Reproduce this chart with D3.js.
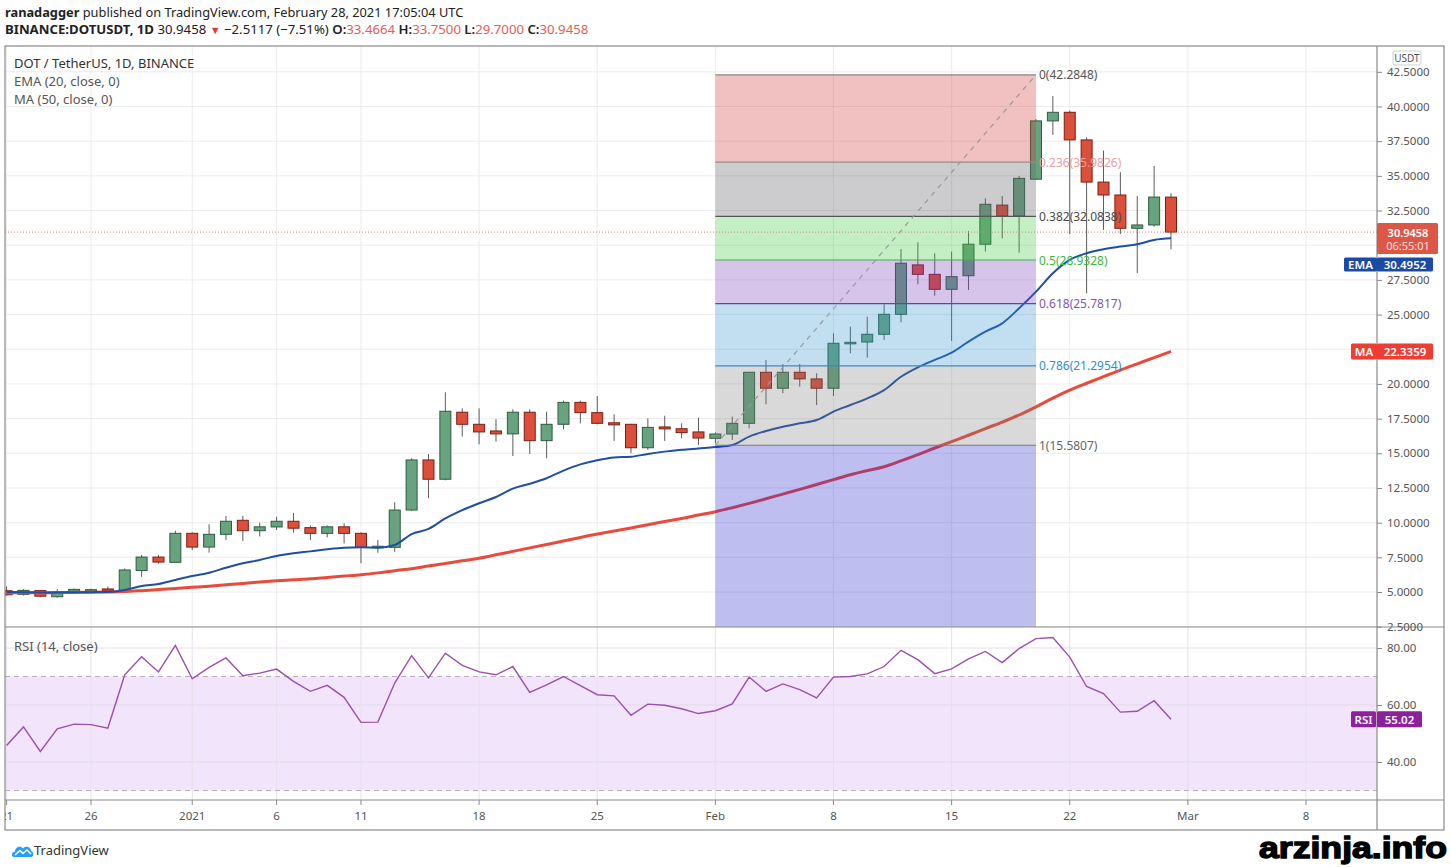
<!DOCTYPE html>
<html><head><meta charset="utf-8">
<script src="https://cdn.jsdelivr.net/npm/d3@7"></script>
<style>body{margin:0;background:#fff;} svg{display:block;font-family:"Noto Sans",sans-serif;}</style>
</head><body><svg id="c" width="1451" height="867"></svg>
<script>
// ---------------- data ----------------
const dates = ["2020-12-21","2020-12-22","2020-12-23","2020-12-24","2020-12-25","2020-12-26","2020-12-27","2020-12-28","2020-12-29","2020-12-30","2020-12-31",
"2021-01-01","2021-01-02","2021-01-03","2021-01-04","2021-01-05","2021-01-06","2021-01-07","2021-01-08","2021-01-09","2021-01-10","2021-01-11","2021-01-12","2021-01-13","2021-01-14","2021-01-15","2021-01-16","2021-01-17","2021-01-18","2021-01-19","2021-01-20","2021-01-21","2021-01-22","2021-01-23","2021-01-24","2021-01-25","2021-01-26","2021-01-27","2021-01-28","2021-01-29","2021-01-30","2021-01-31",
"2021-02-01","2021-02-02","2021-02-03","2021-02-04","2021-02-05","2021-02-06","2021-02-07","2021-02-08","2021-02-09","2021-02-10","2021-02-11","2021-02-12","2021-02-13","2021-02-14","2021-02-15","2021-02-16","2021-02-17","2021-02-18","2021-02-19","2021-02-20","2021-02-21","2021-02-22","2021-02-23","2021-02-24","2021-02-25","2021-02-26","2021-02-27","2021-02-28"];
const openV  = [5.09,4.83,5.10,4.66,5.05,5.12,5.22,5.10,6.55,7.52,7.14, 9.23,8.24,9.16,10.17,9.42,9.69,10.10,9.64,9.23,9.70,9.23,8.20,8.22,10.91,14.52,13.13,17.96,17.09,16.61,16.40,17.96,15.91,17.09,18.67,17.93,17.20,17.09,15.40,16.90,16.77,16.54,
16.08,16.39,17.16,20.84,19.69,20.84,20.36,19.69,22.93,23.02,23.58,25.02,28.58,27.90,26.82,27.80,30.07,32.89,32.10,34.76,38.96,39.58,37.59,34.55,33.62,31.22,31.46,33.4664];
const highV  = [5.40,5.20,5.15,5.20,5.25,5.25,5.40,6.70,7.67,7.67,9.42, 9.30,9.88,10.48,10.48,10.00,10.43,10.70,9.80,9.80,9.95,9.30,8.75,11.47,14.64,14.95,19.40,18.24,18.24,17.47,18.17,18.17,18.00,18.80,18.79,19.13,17.81,17.12,17.52,17.71,17.16,17.57,
16.50,17.64,20.86,21.73,21.44,21.44,20.77,23.65,24.13,24.85,25.74,29.73,30.21,29.42,29.54,31.03,33.38,33.54,35.00,39.10,40.76,39.70,37.78,36.82,35.26,33.55,35.71,33.75];
const lowV   = [4.75,4.75,4.62,4.60,5.00,5.05,5.05,5.05,6.10,7.05,7.10, 8.03,7.83,8.75,8.68,9.00,9.47,9.28,8.75,8.94,8.50,7.07,7.83,7.90,10.84,11.76,13.05,16.20,15.65,15.84,14.80,14.95,14.64,16.73,17.16,17.09,15.89,15.00,15.24,15.89,16.08,15.60,
15.72,15.96,16.80,18.53,19.33,19.80,18.48,19.13,22.21,21.90,23.17,24.44,27.18,26.36,23.10,26.77,29.54,30.50,29.46,34.70,37.95,30.81,26.53,31.10,30.81,27.98,31.34,29.70];
const closeV = [4.80,5.12,4.70,5.00,5.19,5.17,5.12,6.59,7.52,7.16,9.23, 8.24,9.16,10.10,9.42,9.70,10.10,9.60,9.23,9.70,9.23,8.22,8.30,10.91,14.52,13.13,18.03,17.09,16.54,16.40,17.96,15.91,17.09,18.67,17.93,17.16,17.05,15.40,16.87,16.76,16.49,16.10,
16.39,17.16,20.84,19.69,20.84,20.36,19.69,22.93,23.00,23.58,25.02,28.70,27.90,26.82,27.73,30.07,32.95,32.10,34.82,38.96,39.58,37.59,34.55,33.62,31.22,31.46,33.47,30.9458];
const ema20  = [5.00,4.99,4.97,4.97,4.98,4.99,5.00,5.14,5.43,5.58,5.87, 6.15,6.39,6.75,7.07,7.31,7.60,7.79,7.93,8.08,8.19,8.22,8.20,8.39,9.18,9.55,10.30,10.90,11.40,11.85,12.45,12.80,13.20,13.75,14.20,14.50,14.70,14.75,14.95,15.12,15.25,15.35,
15.45,15.60,16.20,16.61,16.92,17.16,17.40,18.00,18.48,18.96,19.56,20.52,21.20,21.73,22.25,23.05,23.77,24.37,25.45,26.65,27.98,28.94,29.42,29.71,29.90,30.07,30.38,30.4952];
const ma50   = [4.95,4.95,4.95,4.96,4.97,4.98,5.00,5.03,5.10,5.18,5.26, 5.34,5.42,5.52,5.62,5.72,5.81,5.88,5.95,6.05,6.15,6.25,6.38,6.54,6.68,6.87,7.06,7.25,7.43,7.68,7.93,8.18,8.43,8.68,8.93,9.18,9.40,9.62,9.85,10.08,10.30,10.55,
10.79,11.08,11.39,11.72,12.06,12.40,12.75,13.10,13.45,13.75,14.03,14.45,14.90,15.38,15.84,16.30,16.78,17.25,17.76,18.35,18.98,19.56,20.05,20.52,21.00,21.45,21.90,22.3359];
const rsi14  = [45.8,52.3,43.7,51.6,53.3,53.1,51.9,70.6,76.9,71.6,80.9, 69.2,73.2,76.5,70.3,71.2,72.6,68.3,64.8,66.9,62.7,53.9,54.0,67.7,77.3,69.5,78.2,73.9,71.6,70.6,73.5,64.4,67.1,70.0,66.8,63.6,63.2,56.4,60.3,59.9,58.7,57.0,
58.0,60.4,69.8,64.8,67.4,65.4,62.5,69.8,70.0,70.9,73.5,79.2,75.9,71.0,72.7,76.2,78.8,74.9,79.8,83.3,83.7,76.8,66.5,64.0,57.5,57.8,61.5,55.02];
const priceTicks = [2.5,5,7.5,10,12.5,15,17.5,20,22.5,25,27.5,30,32.5,35,37.5,40,42.5];
const hiddenPriceTicks = [22.5,30];   // covered by the MA and last-price tags
const rsiTicks = [40,60,80];
const timeTickDates = ["2020-12-21","2020-12-26","2021-01-01","2021-01-06","2021-01-11","2021-01-18","2021-01-25","2021-02-01","2021-02-08","2021-02-15","2021-02-22","2021-03-01","2021-03-08"];
const timeTickLabels = ["21","26","2021","6","11","18","25","Feb","8","15","22","Mar","8"];
const fibRatios = ["0","0.236","0.382","0.5","0.618","0.786","1"];
const fibValues = [42.2848,35.9826,32.0838,28.9328,25.7817,21.2954,15.5807];
const fibStart = "2021-02-01", fibEnd = "2021-02-20";
const lastPrice = 30.9458, lastEma = 30.4952, lastMa = 22.3359, lastRsi = 55.02;

// ---------------- layout ----------------
const L = 5, R = 1377, RA = 1444, T = 46, MB = 627, RB = 800, XB = 830;
const svg = d3.select("#c");
const pd = d3.utcParse("%Y-%m-%d");
const x = d3.scaleUtc().domain([pd("2020-12-21"), pd("2021-03-08")]).range([6.6, 1306]);
const y = d3.scaleLinear().domain([2.5, 42.5]).range([626.7, 71.8]);
const yr = d3.scaleLinear().domain([40, 80]).range([762, 648]);
const candles = dates.map((d,i)=>({date:pd(d),o:openV[i],h:highV[i],l:lowV[i],c:closeV[i],ema:ema20[i],ma:ma50[i],rsi:rsi14[i]}));

const defs = svg.append("defs");
defs.append("clipPath").attr("id","cm").append("rect").attr("x",L).attr("y",T).attr("width",R-L).attr("height",MB-T);
defs.append("clipPath").attr("id","cr").append("rect").attr("x",L).attr("y",MB).attr("width",R-L).attr("height",RB-MB);
defs.append("clipPath").attr("id","cx").append("rect").attr("x",L).attr("y",RB).attr("width",R-L).attr("height",XB-RB);

// header
const h1 = svg.append("text").attr("x",5).attr("y",17).attr("font-size",12.8).attr("fill","#222");
h1.append("tspan").attr("font-weight","bold").text("ranadagger");
h1.append("tspan").text(" published on TradingView.com, February 28, 2021 17:05:04 UTC");
const h2 = svg.append("text").attr("x",5).attr("y",34).attr("font-size",13.2).attr("fill","#222");
h2.append("tspan").attr("font-weight","bold").text("BINANCE:DOTUSDT, 1D");
h2.append("tspan").text(" 30.9458 ");
h2.append("tspan").attr("fill","#e03a3a").attr("font-size",11).text("▼");
h2.append("tspan").text(" −2.5117 (−7.51%) ");
[["O:","33.4664"],["H:","33.7500"],["L:","29.7000"],["C:","30.9458"]].forEach((p,i)=>{
  h2.append("tspan").attr("font-weight","600").text((i?" ":"")+p[0]);
  h2.append("tspan").attr("fill","#e0605a").text(p[1]);
});

// grids
const gm = svg.append("g").attr("clip-path","url(#cm)");
gm.selectAll("line.h").data(priceTicks).join("line").attr("x1",L).attr("x2",R)
  .attr("y1",d=>y(d)).attr("y2",d=>y(d)).attr("stroke","#ececec");
gm.selectAll("line.v").data(timeTickDates).join("line").attr("y1",T).attr("y2",MB)
  .attr("x1",d=>x(pd(d))).attr("x2",d=>x(pd(d))).attr("stroke","#ececec");

// candles
const cw = 11;
const cg = gm.append("g");
cg.selectAll("line.w").data(candles).join("line")
  .attr("x1",d=>x(d.date)).attr("x2",d=>x(d.date)).attr("y1",d=>y(d.h)).attr("y2",d=>y(d.l))
  .attr("stroke","#5c5c5c").attr("stroke-width",1);
cg.selectAll("rect.b").data(candles).join("rect")
  .attr("x",d=>x(d.date)-cw/2).attr("width",cw)
  .attr("y",d=>y(Math.max(d.o,d.c))).attr("height",d=>Math.max(1.5,Math.abs(y(d.o)-y(d.c))))
  .attr("fill",d=>d.c>=d.o?"#67a37f":"#dc4f3a")
  .attr("stroke",d=>d.c>=d.o?"#2e5c40":"#7a1f16").attr("stroke-width",1);

// MA & EMA
gm.append("path").datum(candles).attr("fill","none").attr("stroke","#ea4a3c").attr("stroke-width",3)
  .attr("d",d3.line().x(d=>x(d.date)).y(d=>y(d.ma)).curve(d3.curveMonotoneX));
gm.append("path").datum(candles).attr("fill","none").attr("stroke","#1f4ea6").attr("stroke-width",2)
  .attr("d",d3.line().x(d=>x(d.date)).y(d=>y(d.ema)).curve(d3.curveMonotoneX));

// fibonacci
const fx0 = x(pd(fibStart)), fx1 = x(pd(fibEnd));
const fibFills = ["rgba(210,50,50,0.3)","rgba(100,100,110,0.33)","rgba(60,200,60,0.3)","rgba(120,60,190,0.3)","rgba(50,150,210,0.3)","rgba(120,120,120,0.28)","rgba(40,40,210,0.3)"];
const fibLine = ["#888888","#9a8a8a","#555555","#44b044","#5b4a9e","#3a8dc0","#7a7a7a"];
const fibText = ["#555555","#e8a0a0","#4a4a4a","#3cb83c","#7a5aa8","#2f8fc6","#666666"];
const bands = fibValues.map((v,i)=>({top:v, bot: i<fibValues.length-1 ? fibValues[i+1] : 2.5, fill:fibFills[i]}));
gm.selectAll("rect.f").data(bands).join("rect").attr("x",fx0).attr("width",fx1-fx0)
  .attr("y",d=>y(d.top)).attr("height",d=>y(d.bot)-y(d.top)).attr("fill",d=>d.fill);
gm.selectAll("line.f").data(fibValues).join("line").attr("x1",fx0).attr("x2",fx1)
  .attr("y1",d=>y(d)).attr("y2",d=>y(d)).attr("stroke",(d,i)=>fibLine[i]).attr("stroke-width",1.2);
gm.append("line").attr("x1",fx0).attr("y1",y(fibValues[6])).attr("x2",fx1).attr("y2",y(fibValues[0]))
  .attr("stroke","#999").attr("stroke-width",1.2).attr("stroke-dasharray","5,5");
gm.selectAll("text.f").data(fibValues).join("text").attr("x",fx1+3).attr("y",d=>y(d))
  .attr("dominant-baseline","central").attr("font-size",12).attr("fill",(d,i)=>fibText[i])
  .text((d,i)=>fibRatios[i]+"("+d.toFixed(4)+")");

// price line
gm.append("line").attr("x1",L).attr("x2",R).attr("y1",y(lastPrice)).attr("y2",y(lastPrice))
  .attr("stroke","#e0806e").attr("stroke-width",1).attr("stroke-dasharray","1,2");

// legend
[["DOT / TetherUS, 1D, BINANCE",63],["EMA (20, close, 0)",81],["MA (50, close, 0)",99]].forEach(p=>{
  svg.append("text").attr("x",14).attr("y",p[1]).attr("dominant-baseline","central")
    .attr("font-size",13).attr("fill",p[0].startsWith("DOT")?"#333":"#555").text(p[0]);
});

// RSI pane
const gr = svg.append("g").attr("clip-path","url(#cr)");
gr.append("rect").attr("x",L).attr("width",R-L).attr("y",yr(70)).attr("height",yr(30)-yr(70)).attr("fill","#f2e4fb");
gr.selectAll("line.h").data(rsiTicks).join("line").attr("x1",L).attr("x2",R)
  .attr("y1",d=>yr(d)).attr("y2",d=>yr(d)).attr("stroke","#e3dbe8");
gr.selectAll("line.v").data(timeTickDates).join("line").attr("y1",MB).attr("y2",RB)
  .attr("x1",d=>x(pd(d))).attr("x2",d=>x(pd(d))).attr("stroke","#e6e0ea");
[70,30].forEach(v=>gr.append("line").attr("x1",L).attr("x2",R).attr("y1",yr(v)).attr("y2",yr(v))
  .attr("stroke","#b8b0bc").attr("stroke-dasharray","5,4"));
gr.append("path").datum(candles).attr("fill","none").attr("stroke","#9b4fb0").attr("stroke-width",1.4)
  .attr("d",d3.line().x(d=>x(d.date)).y(d=>yr(d.rsi)));
svg.append("text").attr("x",14).attr("y",646).attr("dominant-baseline","central").attr("font-size",13).attr("fill","#555").text("RSI (14, close)");

// frame
const fr = svg.append("g").attr("stroke","#8a8a8a").attr("stroke-width",1.2).attr("fill","none");
fr.append("rect").attr("x",L).attr("y",T).attr("width",RA-L).attr("height",XB-T);
fr.append("line").attr("x1",R).attr("x2",R).attr("y1",T).attr("y2",XB);
fr.append("line").attr("x1",L).attr("x2",RA).attr("y1",MB).attr("y2",MB);
fr.append("line").attr("x1",L).attr("x2",RA).attr("y1",RB).attr("y2",RB);

// price axis
const ay = d3.axisRight(y).tickValues(priceTicks).tickSize(5).tickFormat(d3.format(".4f"));
const gay = svg.append("g").attr("transform",`translate(${R},0)`).call(ay);
gay.select(".domain").remove();
gay.selectAll("line").attr("stroke","#888");
gay.selectAll("text").attr("font-size",11.5).attr("fill","#555").attr("font-family","Noto Sans").attr("x",10);
gay.selectAll(".tick").filter(d=>hiddenPriceTicks.includes(d)).select("text").remove();
// USDT
svg.append("rect").attr("x",1393).attr("y",51).attr("width",28).attr("height",14).attr("rx",2).attr("fill","#fff").attr("stroke","#cfcfcf");
svg.append("text").attr("x",1407).attr("y",58).attr("text-anchor","middle").attr("dominant-baseline","central").attr("font-size",10).attr("fill","#555").text("USDT");

// rsi axis
const ar = d3.axisRight(yr).tickValues(rsiTicks).tickSize(5).tickFormat(d3.format(".2f"));
const gar = svg.append("g").attr("transform",`translate(${R},0)`).call(ar);
gar.select(".domain").remove();
gar.selectAll("line").attr("stroke","#888");
gar.selectAll("text").attr("font-size",11.5).attr("fill","#555").attr("font-family","Noto Sans").attr("x",10);

// time axis
const gx = svg.append("g").attr("clip-path","url(#cx)");
gx.selectAll("line").data(timeTickDates).join("line").attr("x1",d=>x(pd(d))).attr("x2",d=>x(pd(d)))
  .attr("y1",RB).attr("y2",RB+5).attr("stroke","#888");
gx.selectAll("text").data(timeTickDates).join("text").attr("x",d=>x(pd(d))).attr("y",815)
  .attr("text-anchor","middle").attr("dominant-baseline","central").attr("font-size",11.5).attr("fill","#555")
  .text((d,i)=>timeTickLabels[i]);

// value labels on right axis
function tag(xl, yc, w, h, col, txt){
  svg.append("rect").attr("x",xl).attr("y",yc-h/2).attr("width",w).attr("height",h).attr("rx",1.5).attr("fill",col);
  svg.append("text").attr("x",xl+w/2).attr("y",yc).attr("text-anchor","middle").attr("dominant-baseline","central")
    .attr("font-size",11.5).attr("font-weight","600").attr("fill","#fff").text(txt);
}
// last price (two lines)
svg.append("rect").attr("x",R).attr("y",y(lastPrice)-9).attr("width",61).attr("height",31).attr("rx",1.5).attr("fill","#dd5747");
svg.append("text").attr("x",R+31).attr("y",y(lastPrice)+0.5).attr("text-anchor","middle").attr("dominant-baseline","central").attr("font-size",11).attr("font-weight","600").attr("fill","#fff").text(lastPrice.toFixed(4));
svg.append("text").attr("x",R+31).attr("y",y(lastPrice)+13.5).attr("text-anchor","middle").attr("dominant-baseline","central").attr("font-size",11).attr("fill","#ffe0dc").text("06:55:01");
tag(1344, 264.5, 33, 14, "#1a4aa6", "EMA");
tag(R, 264.5, 56, 14, "#1a4aa6", lastEma.toFixed(4));
tag(1351, y(lastMa), 26, 16, "#ee3d33", "MA");
tag(R, y(lastMa), 56, 16, "#ee3d33", lastMa.toFixed(4));
tag(1351, yr(lastRsi), 25, 16, "#8e1f9e", "RSI");
tag(R, yr(lastRsi), 45, 16, "#8e1f9e", lastRsi.toFixed(2));

// TradingView logo
const lg = svg.append("g").attr("transform","translate(12,843)");
lg.append("path").attr("d","M2,14 C-1,14 -1,9 3,8.5 C3,4 9,2 11,5.5 C13,2.5 19,3 19,8 C22,8.5 22,14 19,14 Z").attr("fill","#2a9df4");
lg.append("path").attr("d","M3,12 L8,7.5 L11,10.5 L15,7 L19,11").attr("fill","none").attr("stroke","#fff").attr("stroke-width",1.5);
svg.append("text").attr("x",34).attr("y",850).attr("dominant-baseline","central").attr("font-size",13).attr("fill","#333").text("TradingView");

// watermark
svg.append("text").attr("x",1259).attr("y",858).attr("font-family","Liberation Sans, Arial, sans-serif").attr("font-weight","bold")
  .attr("font-size",30).attr("textLength",188).attr("lengthAdjust","spacingAndGlyphs")
  .attr("fill","#000").attr("stroke","#000").attr("stroke-width",1.4).text("arzinja.info");
</script></body></html>
